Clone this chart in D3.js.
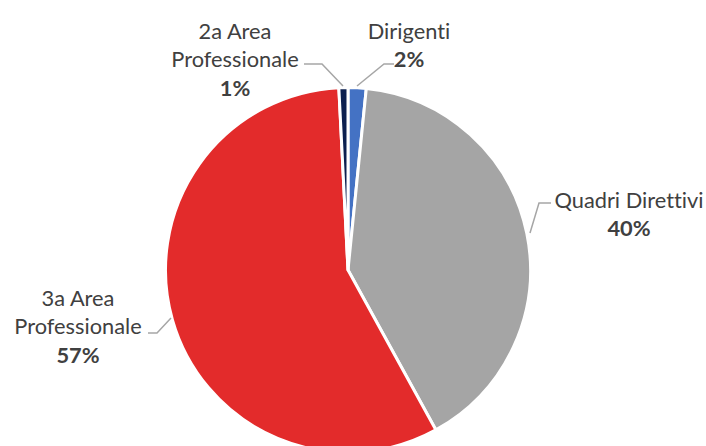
<!DOCTYPE html>
<html>
<head>
<meta charset="utf-8">
<script src="https://cdn.jsdelivr.net/npm/d3@7"></script>
<style>
  html, body { margin: 0; padding: 0; background: #fff; }
  svg { display: block; }
  text { font-family: Lato, "Open Sans", sans-serif; fill: #404040; font-variant-ligatures: none; font-feature-settings: "liga" 0, "clig" 0; }
</style>
</head>
<body>
<svg id="chart" width="706" height="446"></svg>
<script>
const categories = ["Dirigenti", "Quadri Direttivi", "3a Area Professionale", "2a Area Professionale"];
const values = [1.6, 40.4, 57.2, 0.8];
const percentLabels = ["2%", "40%", "57%", "1%"];
const labelLines = [["Dirigenti"], ["Quadri Direttivi"], ["3a Area", "Professionale"], ["2a Area", "Professionale"]];
const colors = ["#4472C4", "#A5A5A5", "#E32B2B", "#0C1F4F"];

const W = 706, H = 446;
const cx = 348, cy = 270, R = 182.5;
const svg = d3.select("#chart");

const pie = d3.pie().sort(null).value(d => d.v).startAngle(0).endAngle(2 * Math.PI);
const data = categories.map((c, i) => ({ c, v: values[i], i }));
const arcs = pie(data);
const arc = d3.arc().innerRadius(0).outerRadius(R);

const g = svg.append("g").attr("transform", `translate(${cx},${cy})`);
g.selectAll("path.slice").data(arcs).enter().append("path")
  .attr("class", "slice")
  .attr("d", arc)
  .attr("fill", d => colors[d.data.i])
  .attr("stroke", "#fff")
  .attr("stroke-width", 3)
  .attr("stroke-linejoin", "round");

// label placement (layout only)
const fs = 21.8, lh = 28.5;
const labelLayout = [
  { x: 409, top: 38.5, leader: [[357, 86], [384, 64], [394, 64]] },
  { x: 629, top: 207.5, leader: [[530, 233], [539, 203], [551, 203]] },
  { x: 78, top: 305.5, leader: [[148, 333], [157, 333], [171, 318]] },
  { x: 235, top: 38.5, leader: [[304, 64], [322, 64], [343, 86]] }
];

const line = d3.line();
arcs.forEach((a) => {
  const i = a.data.i;
  const L = labelLayout[i];
  svg.append("path")
    .attr("d", line(L.leader))
    .attr("fill", "none")
    .attr("stroke", "#A6A6A6")
    .attr("stroke-width", 1.5);
  const t = svg.append("text").attr("text-anchor", "middle").attr("font-size", fs);
  labelLines[i].forEach((s, j) => {
    t.append("tspan").attr("x", L.x).attr("y", L.top + j * lh).text(s);
  });
  t.append("tspan").attr("x", L.x).attr("y", L.top + labelLines[i].length * lh)
    .attr("font-weight", "bold").text(percentLabels[i]);
});
</script>
</body>
</html>
